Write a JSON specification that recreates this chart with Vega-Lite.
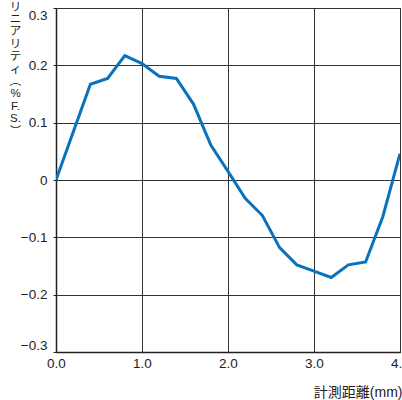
{
  "$schema": "https://vega.github.io/schema/vega-lite/v6.json",
  "width": 344,
  "height": 344,
  "autosize": {"type": "none"},
  "padding": {"left": 56, "top": 8, "right": 2, "bottom": 48},
  "background": "white",
  "config": {
    "view": {"stroke": "#222", "strokeWidth": 1},
    "font": "Liberation Sans, Noto Sans CJK JP",
    "axis": {
      "labelFont": "Liberation Sans, Noto Sans CJK JP",
      "titleFont": "Liberation Sans, Noto Sans CJK JP",
      "labelColor": "#222",
      "titleColor": "#222",
      "domainColor": "#222",
      "tickColor": "#222",
      "gridColor": "#333",
      "gridOpacity": 1,
      "gridWidth": 1,
      "domainWidth": 1.5
    }
  },
  "data": {
    "values": [
      {"d": 0.0, "lin": 0.0},
      {"d": 0.4, "lin": 0.167},
      {"d": 0.6, "lin": 0.177},
      {"d": 0.8, "lin": 0.217},
      {"d": 1.0, "lin": 0.203},
      {"d": 1.2, "lin": 0.181},
      {"d": 1.4, "lin": 0.177},
      {"d": 1.6, "lin": 0.132},
      {"d": 1.8, "lin": 0.061},
      {"d": 2.0, "lin": 0.015},
      {"d": 2.2, "lin": -0.032},
      {"d": 2.4, "lin": -0.062},
      {"d": 2.6, "lin": -0.118},
      {"d": 2.8, "lin": -0.148},
      {"d": 3.0, "lin": -0.159},
      {"d": 3.2, "lin": -0.170},
      {"d": 3.4, "lin": -0.148},
      {"d": 3.6, "lin": -0.143},
      {"d": 3.8, "lin": -0.064},
      {"d": 4.0, "lin": 0.046}
    ]
  },
  "mark": {"type": "line", "color": "#0a72ba", "strokeWidth": 3, "clip": true},
  "encoding": {
    "x": {
      "field": "d",
      "type": "quantitative",
      "scale": {"domain": [0, 4], "nice": false, "zero": false},
      "axis": {
        "values": [0, 1, 2, 3, 4],
        "format": ".1f",
        "labelFontSize": 13.5,
        "labelFlush": false,
        "tickSize": 0,
        "labelPadding": 4,
        "title": "計測距離(mm)",
        "titleFontSize": 14,
        "titleFontWeight": "normal",
        "titleAlign": "right",
        "titleAnchor": null,
        "titleX": 346,
        "titleY": 40,
        "titleBaseline": "middle"
      }
    },
    "y": {
      "field": "lin",
      "type": "quantitative",
      "scale": {"domain": [-0.3, 0.3], "nice": false, "zero": false},
      "axis": {
        "values": [-0.3, -0.2, -0.1, 0, 0.1, 0.2, 0.3],
        "labelExpr": "datum.value == 0 ? '0' : replace(format(datum.value, '.1f'), '-', '−')",
        "labelFontSize": 13.5,
        "labelFlush": true,
        "tickSize": 3,
        "labelPadding": 6,
        "title": ["リ", "ニ", "ア", "リ", "テ", "ィ", "︵", "%", "F.", "S.", "︶"],
        "titleFontSize": 11.5,
        "titleFontWeight": "normal",
        "titleLineHeight": 12.4,
        "titleAngle": 0,
        "titleAlign": "center",
        "titleBaseline": "top",
        "titleAnchor": null,
        "titleX": -41,
        "titleY": -7
      }
    }
  }
}
